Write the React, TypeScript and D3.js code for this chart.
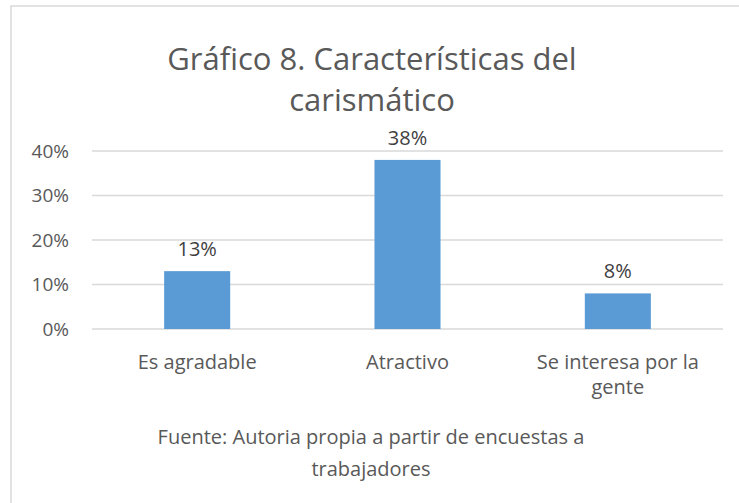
import React from "react";
import * as d3 from "d3";

const categories = ["Es agradable", "Atractivo", "Se interesa por la gente"];
const categoryLines = [["Es agradable"], ["Atractivo"], ["Se interesa por la", "gente"]];
const values = [0.13, 0.38, 0.08];
const yTicks = [0, 0.1, 0.2, 0.3, 0.4];
const titleLines = ["Gráfico 8. Características del", "carismático"];
const sourceLines = ["Fuente: Autoria propia a partir de encuestas a", "trabajadores"];

const W = 739;
const H = 503;
const FONT = "'Open Sans', sans-serif";

export default function App() {
  const x = d3.scaleBand<string>().domain(categories).range([92, 723]).paddingInner(0.686).paddingOuter(0.343);
  const y = d3.scaleLinear().domain([0, 0.4]).range([329, 151]);
  const pct = d3.format(".0%");

  return (
    <svg width={W} height={H} style={{ position: "absolute", left: 0, top: 0, background: "#fff" }} fontFamily={FONT}>
      {/* chart area border, cut off at right and bottom */}
      <rect x={11} y={6} width={W + 20} height={H + 20} fill="#fff" stroke="#d9d9d9" strokeWidth={1.5} />

      <text x={372} y={70} textAnchor="middle" fontSize={31} fill="#595959">
        {titleLines.map((t, i) => (
          <tspan key={t} x={372} dy={i === 0 ? 0 : 41}>{t}</tspan>
        ))}
      </text>

      {yTicks.map(t => (
        <g key={t}>
          <line x1={92} x2={723} y1={y(t)} y2={y(t)} stroke="#d9d9d9" strokeWidth={1.5} />
          <text x={69} y={y(t)} dy="0.35em" textAnchor="end" fontSize={19} fill="#595959">{pct(t)}</text>
        </g>
      ))}

      {categories.map((c, i) => (
        <g key={c}>
          <rect x={x(c)} y={y(values[i])} width={x.bandwidth()} height={y(0) - y(values[i])} fill="#5b9bd5" />
          <text x={x(c)! + x.bandwidth() / 2} y={y(values[i]) - 15} textAnchor="middle" fontSize={20} fill="#404040">{pct(values[i])}</text>
          <text x={x(c)! + x.bandwidth() / 2} y={369} textAnchor="middle" fontSize={20} fill="#595959">
            {categoryLines[i].map((l, j) => (
              <tspan key={l} x={x(c)! + x.bandwidth() / 2} dy={j === 0 ? 0 : 25}>{l}</tspan>
            ))}
          </text>
        </g>
      ))}

      <text x={371} y={444} textAnchor="middle" fontSize={20} fill="#595959">
        {sourceLines.map((t, i) => (
          <tspan key={t} x={371} dy={i === 0 ? 0 : 32}>{t}</tspan>
        ))}
      </text>
    </svg>
  );
}
